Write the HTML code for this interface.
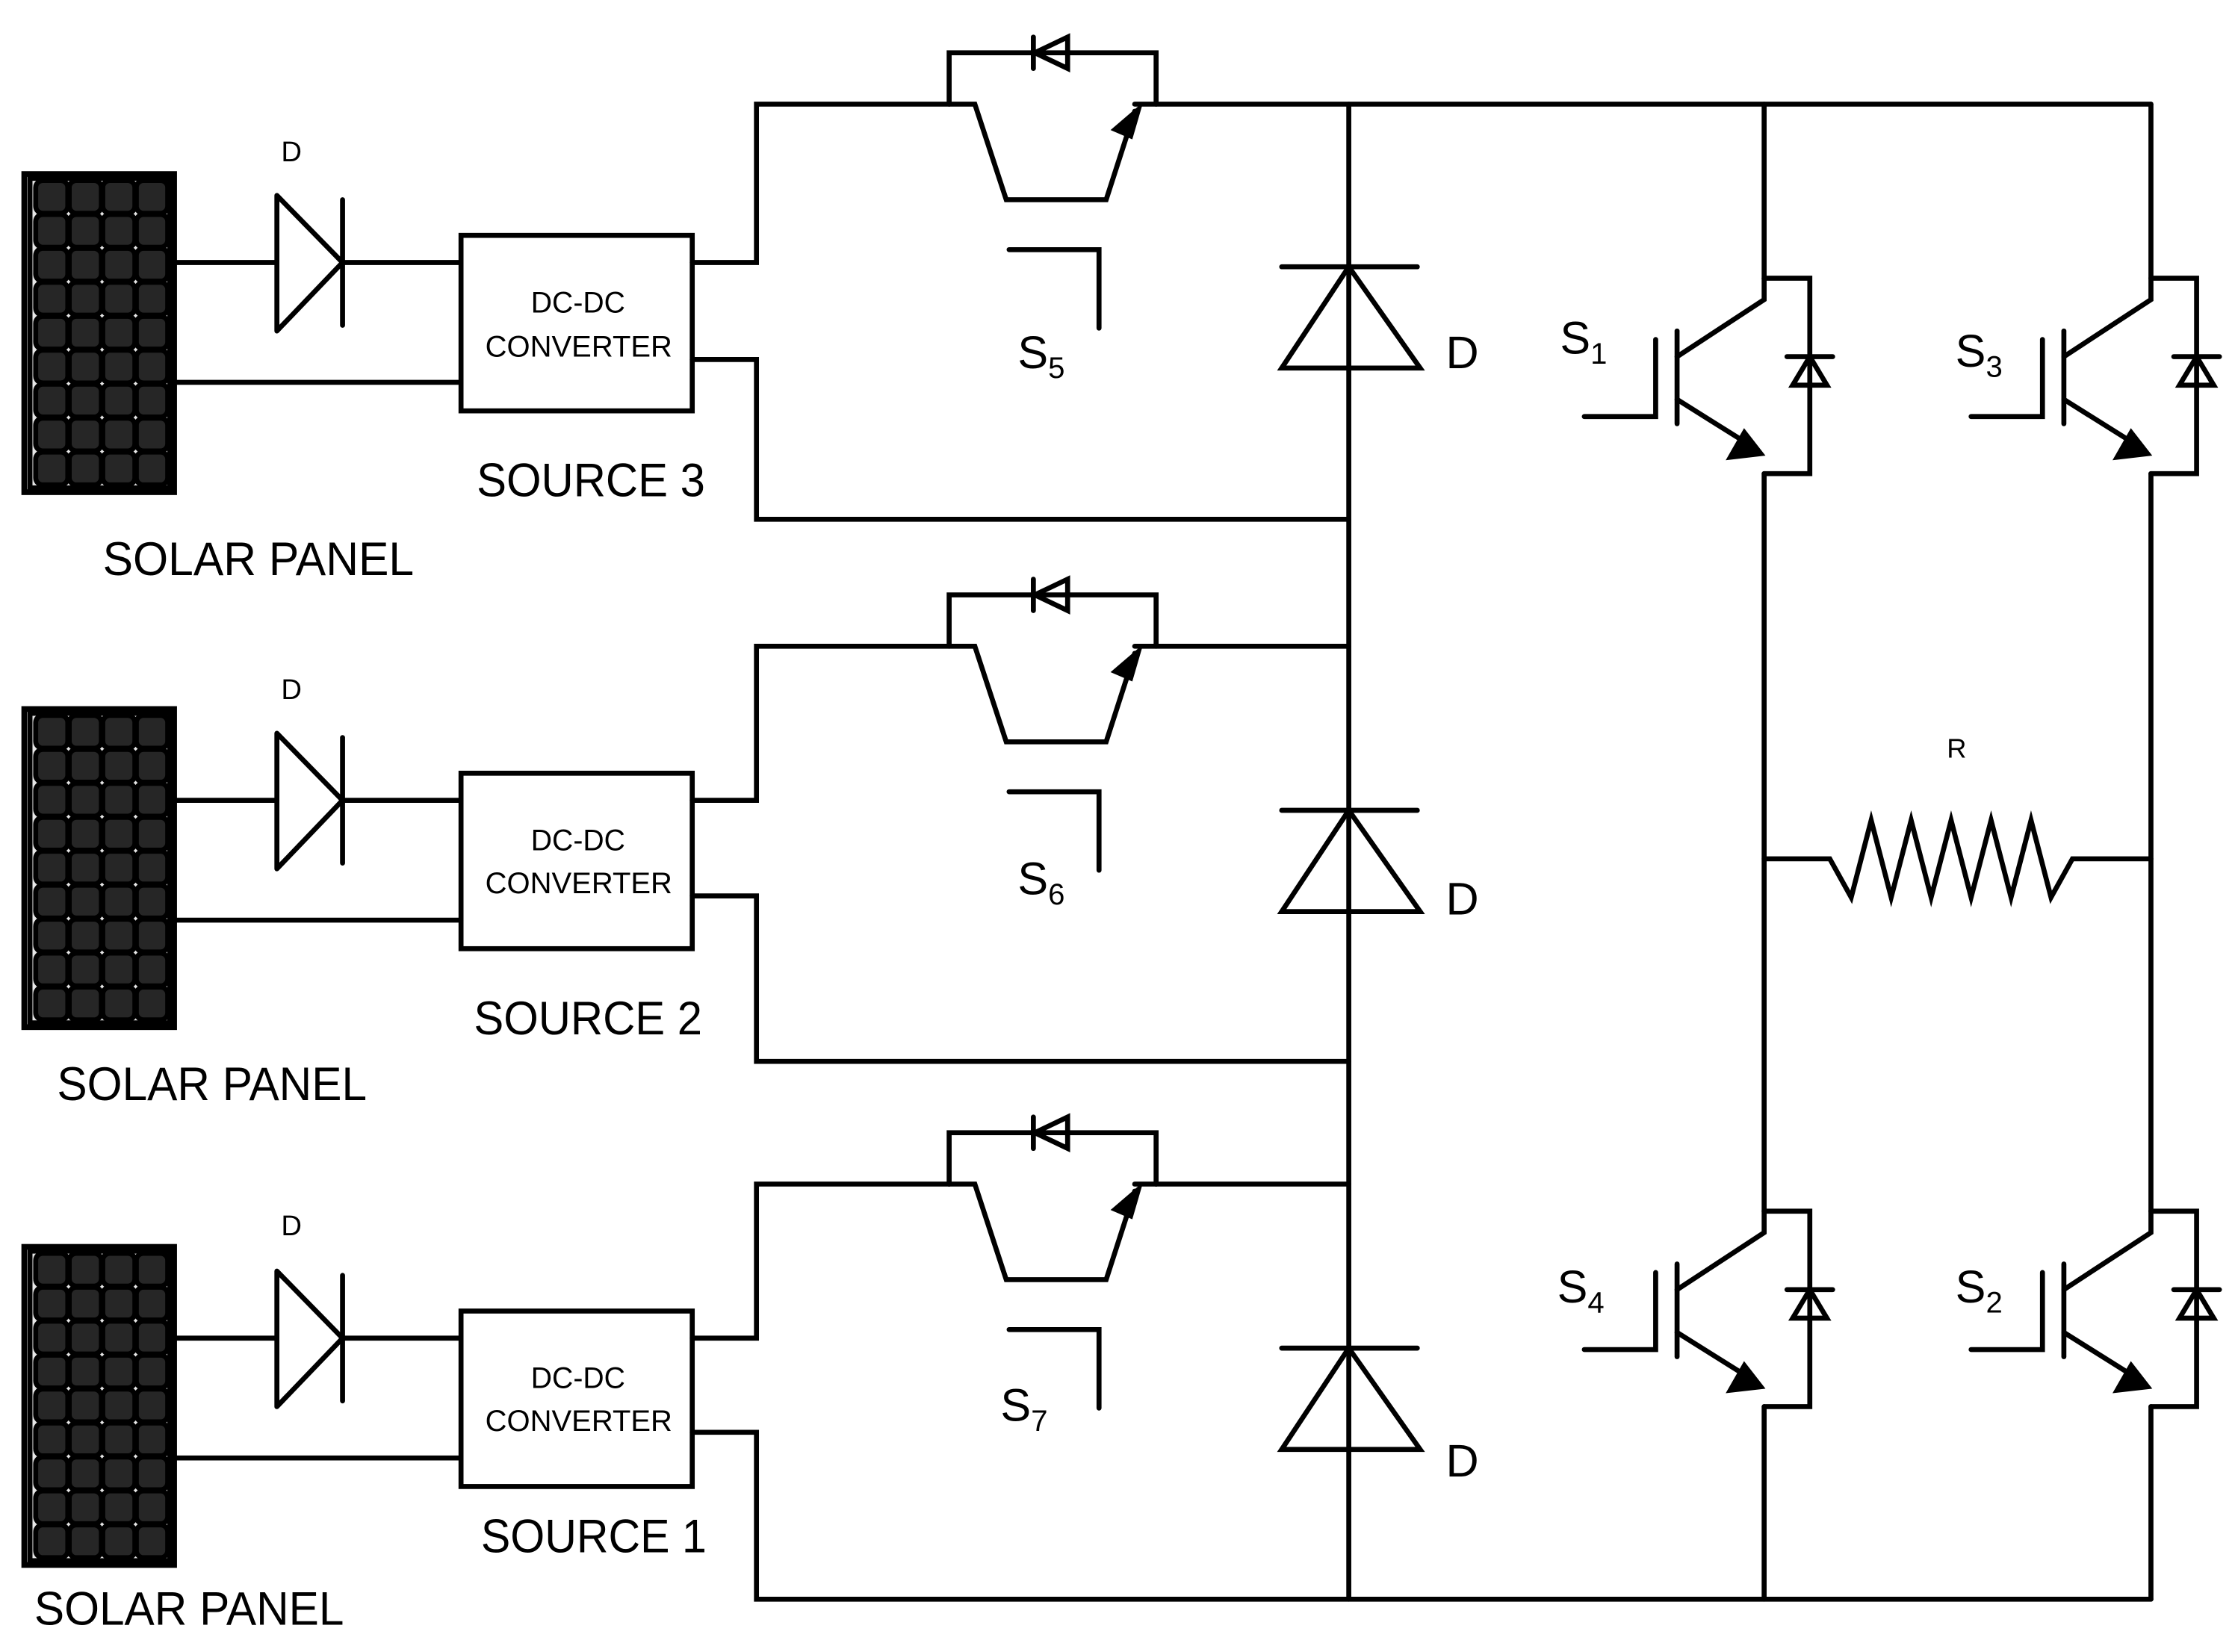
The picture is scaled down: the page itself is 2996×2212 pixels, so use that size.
<!DOCTYPE html>
<html><head><meta charset="utf-8"><style>html,body{margin:0;padding:0;background:#fff}svg{display:block}</style></head>
<body>
<svg width="2996" height="2212" viewBox="0 0 1568 1158" preserveAspectRatio="none" xmlns="http://www.w3.org/2000/svg">
<defs>
<g id="cells">
  <rect x="25" y="0" width="22.5" height="23" rx="5"/><rect x="48.5" y="0" width="22.5" height="23" rx="5"/><rect x="72" y="0" width="22.5" height="23" rx="5"/><rect x="95.5" y="0" width="22" height="23" rx="5"/>
</g>
<g id="solar">
  <rect x="17" y="0" width="105" height="223" fill="#fff" stroke="#000" stroke-width="4"/>
  <rect x="21" y="3" width="98" height="217" fill="#e6e6e6"/>
  <g fill="#262626">
    <use href="#cells" y="4.5"/><use href="#cells" y="28.3"/><use href="#cells" y="52.1"/><use href="#cells" y="75.9"/><use href="#cells" y="99.7"/><use href="#cells" y="123.5"/><use href="#cells" y="147.3"/><use href="#cells" y="171.1"/><use href="#cells" y="194.9"/>
  </g>
</g>
<g id="src">
  <line x1="122" y1="0" x2="194" y2="0"/>
  <polygon points="194,-47 240,0 194,48" fill="none" stroke-linejoin="round"/>
  <line x1="240" y1="-44" x2="240" y2="44"/>
  <line x1="240" y1="0" x2="323" y2="0"/>
  <line x1="122" y1="84" x2="323" y2="84"/>
  <rect x="323" y="-19" width="162" height="123" fill="none"/>
</g>
<g id="sw">
  <polyline points="665,0 665,-36 810,-36 810,0" fill="none"/>
  <line x1="724" y1="-47" x2="724" y2="-25"/>
  <polygon points="748,-47 748,-25 725,-36" fill="none" stroke-linejoin="miter"/>
  <polyline points="665,0 683,0 705,67 775,67 795,5" fill="none"/>
  <polygon points="800,0 779,18 793,24" fill="#000" stroke-width="1"/>
  <line x1="795" y1="0" x2="810" y2="0"/>
  <polyline points="707,102 770,102 770,157" fill="none"/>
</g>
<g id="bigd">
  <line x1="898" y1="0" x2="993" y2="0"/>
  <polygon points="945,0 898,71 995,71" fill="none" stroke-linejoin="miter"/>
</g>
<g id="igbt">
  <polyline points="0,0 32,0 32,137 0,137" fill="none"/>
  <line x1="16" y1="55" x2="48" y2="55"/>
  <polygon points="32,55 20,75 44,75" fill="none" stroke-linejoin="miter"/>
  <polyline points="0,0 0,15 -61,55" fill="none"/>
  <line x1="-61" y1="37" x2="-61" y2="102"/>
  <polyline points="-76,43 -76,97 -126,97" fill="none"/>
  <line x1="-61" y1="85" x2="-10" y2="117"/>
  <polygon points="0,124 -26,127 -14,106" fill="#000" stroke-width="1"/>
</g>
</defs>

<g stroke="#000" stroke-width="3.5" stroke-linecap="round">
  <use href="#solar" y="122"/>
  <use href="#solar" y="497"/>
  <use href="#solar" y="874"/>
  <use href="#src" y="184"/>
  <use href="#src" y="561"/>
  <use href="#src" y="938"/>
  <polyline points="485,184 530,184 530,73 665,73" fill="none"/>
  <polyline points="485,252 530,252 530,364 945,364" fill="none"/>
  <polyline points="485,561 530,561 530,453 665,453" fill="none"/>
  <polyline points="485,628 530,628 530,744 945,744" fill="none"/>
  <polyline points="485,938 530,938 530,830 665,830" fill="none"/>
  <polyline points="485,1004 530,1004 530,1121 1507,1121" fill="none"/>
  <use href="#sw" y="73"/>
  <use href="#sw" y="453"/>
  <use href="#sw" y="830"/>
  <line x1="810" y1="73" x2="1507" y2="73"/>
  <line x1="810" y1="453" x2="945" y2="453"/>
  <line x1="810" y1="830" x2="945" y2="830"/>
  <line x1="945" y1="73" x2="945" y2="1121"/>
  <use href="#bigd" y="187"/>
  <use href="#bigd" y="568"/>
  <use href="#bigd" y="945"/>
  <line x1="1236" y1="73" x2="1236" y2="195"/>
  <line x1="1236" y1="332" x2="1236" y2="849"/>
  <line x1="1236" y1="986" x2="1236" y2="1121"/>
  <line x1="1507" y1="73" x2="1507" y2="195"/>
  <line x1="1507" y1="332" x2="1507" y2="849"/>
  <line x1="1507" y1="986" x2="1507" y2="1121"/>
  <use href="#igbt" x="1236" y="195"/>
  <use href="#igbt" x="1507" y="195"/>
  <use href="#igbt" x="1236" y="849"/>
  <use href="#igbt" x="1507" y="849"/>
  <polyline points="1236,602 1282,602 1297,629 1311,575 1325,629 1339,575 1353,629 1367,575 1381,629 1395,575 1409,629 1423,575 1437,629 1452,602 1507,602" fill="none" stroke-linejoin="miter"/>
</g>

<g font-family="'Liberation Sans', sans-serif" fill="#000">
  <text x="197" y="113" font-size="20">D</text>
  <text x="197" y="490" font-size="20">D</text>
  <text x="197" y="866" font-size="20">D</text>
  <text x="372" y="219" font-size="21" textLength="66" lengthAdjust="spacingAndGlyphs">DC-DC</text>
  <text x="340" y="250" font-size="21" textLength="131" lengthAdjust="spacingAndGlyphs">CONVERTER</text>
  <text x="372" y="596" font-size="21" textLength="66" lengthAdjust="spacingAndGlyphs">DC-DC</text>
  <text x="340" y="626" font-size="21" textLength="131" lengthAdjust="spacingAndGlyphs">CONVERTER</text>
  <text x="372" y="973" font-size="21" textLength="66" lengthAdjust="spacingAndGlyphs">DC-DC</text>
  <text x="340" y="1003" font-size="21" textLength="131" lengthAdjust="spacingAndGlyphs">CONVERTER</text>
  <text x="334" y="348" font-size="33" textLength="160" lengthAdjust="spacingAndGlyphs">SOURCE 3</text>
  <text x="332" y="725" font-size="33" textLength="160" lengthAdjust="spacingAndGlyphs">SOURCE 2</text>
  <text x="337" y="1088" font-size="33" textLength="158" lengthAdjust="spacingAndGlyphs">SOURCE 1</text>
  <text x="72" y="403" font-size="33" textLength="218" lengthAdjust="spacingAndGlyphs">SOLAR PANEL</text>
  <text x="40" y="771" font-size="33" textLength="217" lengthAdjust="spacingAndGlyphs">SOLAR PANEL</text>
  <text x="24" y="1139" font-size="33" textLength="217" lengthAdjust="spacingAndGlyphs">SOLAR PANEL</text>
  <text x="1013" y="258" font-size="32">D</text>
  <text x="1013" y="641" font-size="32">D</text>
  <text x="1013" y="1035" font-size="32">D</text>
  <text x="1364" y="531" font-size="19">R</text>
  <text x="713" y="258" font-size="32">S<tspan font-size="21" dy="7">5</tspan></text>
  <text x="713" y="627" font-size="32">S<tspan font-size="21" dy="7">6</tspan></text>
  <text x="701" y="996" font-size="32">S<tspan font-size="21" dy="7">7</tspan></text>
  <text x="1093" y="248" font-size="32">S<tspan font-size="21" dy="7">1</tspan></text>
  <text x="1370" y="257" font-size="32">S<tspan font-size="21" dy="7">3</tspan></text>
  <text x="1091" y="913" font-size="32">S<tspan font-size="21" dy="7">4</tspan></text>
  <text x="1370" y="913" font-size="32">S<tspan font-size="21" dy="7">2</tspan></text>
</g>
</svg>
</body></html>
